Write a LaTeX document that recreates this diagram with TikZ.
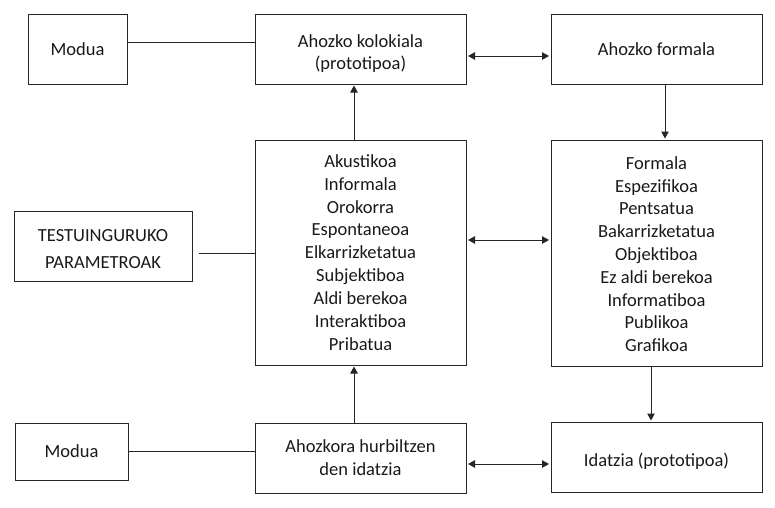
\documentclass[tikz,border=0pt]{standalone}
\usepackage{fontspec}
\setmainfont{Carlito}
\usetikzlibrary{arrows.meta}
\begin{document}
\begin{tikzpicture}[x=1pt,y=-1pt,
  box/.style={draw=black!85,line width=1pt,align=center,inner sep=0pt,
    font=\fontsize{18.5}{22.9}\selectfont,text=black!90},
  conn/.style={draw=black!85,line width=1pt},
  tip/.tip={Triangle[length=7pt,width=7.5pt]},
  arr/.style={conn,-tip,shorten >=1pt},
  darr/.style={conn,tip-tip,shorten >=1.5pt,shorten <=1.5pt}]
\useasboundingbox (0,0) rectangle (775,507);
\node[box,minimum width=99pt,minimum height=70pt] (mod1) at (77.5,49) {Modua};
\node[box,minimum width=211pt,minimum height=70pt] (kol) at (360.5,49) {\rule{0pt}{22pt}Ahozko kolokiala\\(prototipoa)};
\node[box,minimum width=211pt,minimum height=70pt] (afor) at (656.5,49) {Ahozko formala};
\node[box,minimum width=211pt,minimum height=225pt] (akus) at (360.5,252.5) {Akustikoa\\Informala\\Orokorra\\Espontaneoa\\Elkarrizketatua\\Subjektiboa\\Aldi berekoa\\Interaktiboa\\Pribatua};
\node[box,minimum width=178pt,minimum height=70pt,font=\fontsize{18.5}{27}\selectfont] (testu) at (103,246) {\rule{0pt}{18pt}TESTUINGURUKO\\PARAMETROAK};
\node[box,minimum width=211pt,minimum height=226pt,font=\fontsize{18.5}{22.8}\selectfont] (form) at (656.5,253) {\rule{0pt}{15pt}Formala\\Espezifikoa\\Pentsatua\\Bakarrizketatua\\Objektiboa\\Ez aldi berekoa\\Informatiboa\\Publikoa\\Grafikoa};
\node[box,minimum width=113pt,minimum height=57pt] (mod2) at (71.5,451.5) {Modua};
\node[box,minimum width=211pt,minimum height=70pt] (ahoz) at (360.5,458) {Ahozkora hurbiltzen\\den idatzia};
\node[box,minimum width=211pt,minimum height=70pt] (idat) at (656.5,457) {\rule{0pt}{22pt}Idatzia (prototipoa)};
% connectors
\draw[conn] ([yshift=7pt]mod1.east) -- ([yshift=7pt]kol.west);
\draw[darr] ([yshift=-7pt]kol.east) -- ([yshift=-7pt]afor.west);
\draw[conn] ([xshift=6pt,yshift=-7pt]testu.east) -- ([yshift=-7pt]testu.east -| akus.west);
\draw[darr] ([yshift=12.5pt]akus.east) -- ([yshift=12.5pt]akus.east -| form.west);
\draw[conn] (mod2.east) -- (mod2.east -| ahoz.west);
\draw[darr] ([yshift=-6pt]ahoz.east) -- ([yshift=-6pt]ahoz.east -| idat.west);
\draw[arr] ([xshift=-6.5pt]akus.north) -- ([xshift=-6.5pt]kol.south);
\draw[arr] ([xshift=-6.5pt]ahoz.north) -- ([xshift=-6.5pt]akus.south);
\draw[arr] ([xshift=8.5pt]afor.south) -- ([xshift=8.5pt]form.north);
\draw[arr] ([xshift=-5.5pt]form.south) -- ([xshift=-5.5pt]idat.north);
\end{tikzpicture}
\end{document}
